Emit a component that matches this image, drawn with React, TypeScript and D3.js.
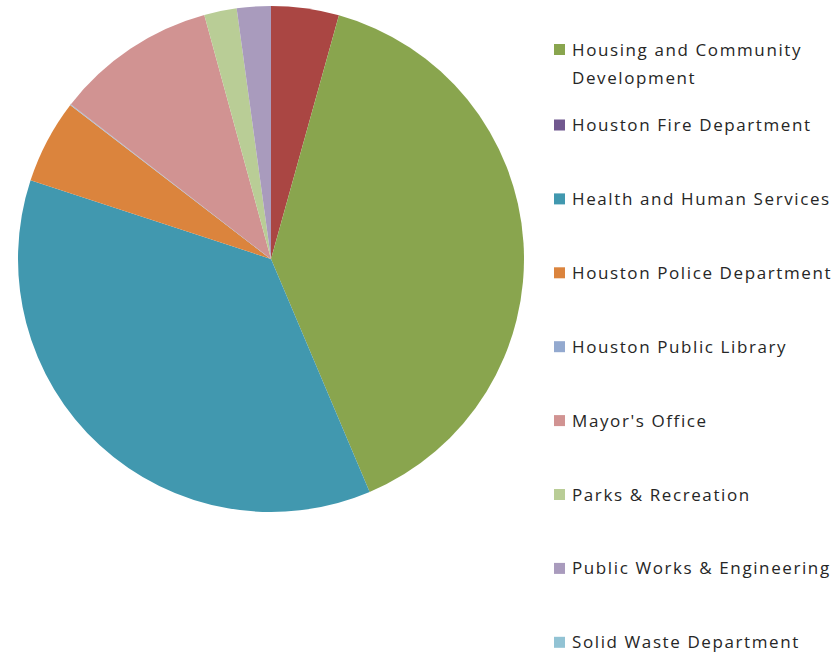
import React from "react";
import * as d3 from "d3";

// Legend is scrolled in the original: first two categories are not visible in it.
const categories = [
  "Category 1",
  "Category 2",
  "Housing and Community Development",
  "Houston Fire Department",
  "Health and Human Services",
  "Houston Police Department",
  "Houston Public Library",
  "Mayor's Office",
  "Parks & Recreation",
  "Public Works & Engineering",
  "Solid Waste Department",
];
const values = [0, 4.33, 39.33, 0, 36.44, 5.39, 0.06, 10.28, 2.08, 2.17, 0];
const colors = [
  "#4572A7", "#AA4643", "#89A54E", "#71588F", "#4198AF", "#DB843D",
  "#93A9CF", "#D19392", "#B9CD96", "#A99BBD", "#92C3D4",
];
const legendLines = [
  null,
  null,
  ["Housing and Community", "Development"],
  ["Houston Fire Department"],
  ["Health and Human Services"],
  ["Houston Police Department"],
  ["Houston Public Library"],
  ["Mayor's Office"],
  ["Parks & Recreation"],
  ["Public Works & Engineering"],
  ["Solid Waste Department"],
];

const W = 838, H = 656;
const cx = 271, cy = 259, R = 253;

export default function App() {
  const data = categories.map((c, i) => ({ name: c, value: values[i], color: colors[i], idx: i }));
  const pie = d3.pie<any>().sort(null).value((d) => d.value).startAngle(0).endAngle(2 * Math.PI);
  const arcs = pie(data);
  const arc = d3.arc<any>().innerRadius(0).outerRadius(R);

  // legend layout
  const lineH = 28, step = 73.9, firstY = 51.1;
  const legendItems: any[] = [];
  let k = 0;
  data.forEach((d, i) => {
    const lines = legendLines[i];
    if (!lines) return;
    legendItems.push({ ...d, lines, y: firstY + k * step - (lines.length - 1) * 1.6 });
    k++;
  });

  return (
    <svg width={W} height={H} style={{ position: "absolute", left: 0, top: 0, background: "#fff" }}
      fontFamily="'Open Sans', sans-serif">
      <g transform={`translate(${cx},${cy})`}>
        {arcs.map((a, i) => (
          <path key={i} d={arc(a) || ""} fill={a.data.color} stroke={a.value > 0 && a.value < 0.5 ? "#c8c8d0" : "none"} strokeWidth={0.8} />
        ))}
      </g>
      {legendItems.map((d, i) => (
        <g key={i}>
          <rect x={554} y={d.y - 5.5} width={11} height={11} fill={d.color} />
          {d.lines.map((l: string, j: number) => (
            <text key={j} x={572} y={d.y + j * lineH + 6} fontSize={17} fill="#262626" letterSpacing={1.6}>
              {l}
            </text>
          ))}
        </g>
      ))}
    </svg>
  );
}
